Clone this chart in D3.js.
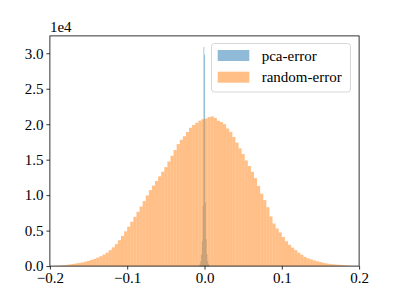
<!DOCTYPE html>
<html>
<head>
<meta charset="utf-8">
<script src="https://cdnjs.cloudflare.com/ajax/libs/d3/7.8.5/d3.min.js"></script>
<style>
  body { margin: 0; background: #fff; }
  svg { display: block; font-family: "Liberation Serif", "DejaVu Serif", serif; }
</style>
</head>
<body>
<svg id="chart"></svg>
<script>
let w = 399;
let h = 299;
let margin = {left: 49.9, right: 39.9, top: 35.9, bottom: 32.9};

// bin edges and counts
let randomStart = -0.2;
let randomBinWidth = 0.004;
let randomCounts = [
  0, 20, 50, 80, 120, 170, 240, 300, 370, 440,
  520, 620, 740, 880, 1030, 1200, 1400, 1620, 1900, 2250,
  2650, 3100, 3650, 4250, 4900, 5550, 6250, 6950, 7650, 8400,
  9150, 9950, 10700, 11350, 12000, 12650, 13300, 13950, 14750, 15550,
  16350, 17200, 17800, 18300, 18900, 19500, 19900, 20200, 20500, 20700,
  20800, 21000, 21100, 20900, 20500, 20300, 20000, 19400, 18900, 18200,
  17400, 16600, 15800, 14900, 14100, 13300, 12400, 11300, 10200, 9300,
  8300, 7000, 6000, 5300, 4750, 4100, 3500, 3000, 2600, 2250,
  1900, 1600, 1300, 1100, 950, 800, 680, 570, 460, 380,
  320, 260, 220, 180, 140, 100, 70, 40, 20, 10
];

let pcaStart = -0.0073;
let pcaBinWidth = 0.001;
let pcaCounts = [
  60, 250, 700, 1600, 3500, 8500, 30900,
  29800, 9000, 3800, 1700, 750, 260, 60
];

let xTicks = [-0.2, -0.1, 0.0, 0.1, 0.2];
let yTicks = [0, 5000, 10000, 15000, 20000, 25000, 30000];
let seriesNames = ["pca-error", "random-error"];
let seriesColors = ["#1f77b4", "#ff7f0e"];

function toBins(start, width, counts) {
  return counts.map((c, i) => ({x0: start + i * width, x1: start + (i + 1) * width, count: c}));
}

let series = [
  toBins(pcaStart, pcaBinWidth, pcaCounts),
  toBins(randomStart, randomBinWidth, randomCounts)
];

let xScale = d3.scaleLinear().domain([-0.2, 0.2]).range([margin.left, w - margin.right]);
let yMax = d3.max(series.flat(), (d) => d.count) * 1.05;
let yScale = d3.scaleLinear().domain([0, yMax]).range([h - margin.bottom, margin.top]);

let svg = d3.select("#chart")
  .attr("width", w)
  .attr("height", h);

series.forEach((bins, k) => {
  svg.append("g")
    .selectAll("rect")
    .data(bins)
    .enter()
    .append("rect")
    .attr("x", (d) => xScale(d.x0))
    .attr("y", (d) => yScale(d.count))
    .attr("width", (d) => xScale(d.x1) - xScale(d.x0))
    .attr("height", (d) => yScale(0) - yScale(d.count))
    .style("fill", seriesColors[k])
    .style("fill-opacity", 0.5);
});

let minus = (s) => s.replace("-", "\u2212");

let xAxis = d3.axisBottom(xScale).tickValues(xTicks).tickSize(3.5).tickPadding(3)
  .tickFormat((d) => minus(d3.format(".1f")(d)));
let yAxis = d3.axisLeft(yScale).tickValues(yTicks).tickSize(3.5).tickPadding(3)
  .tickFormat((d) => d3.format(".1f")(d / 10000));

let gx = svg.append("g")
  .attr("transform", "translate(0," + (h - margin.bottom) + ")")
  .call(xAxis);
let gy = svg.append("g")
  .attr("transform", "translate(" + margin.left + ",0)")
  .call(yAxis);

[gx, gy].forEach((g) => {
  g.select(".domain").remove();
  g.attr("font-family", null);
  g.selectAll("line").attr("stroke", "#000").attr("stroke-width", 0.8);
  g.selectAll("text").attr("fill", "#000").style("font-size", "15px").style("font-family", "'Liberation Serif', serif");
});

// frame
svg.append("rect")
  .attr("x", margin.left)
  .attr("y", margin.top)
  .attr("width", w - margin.left - margin.right)
  .attr("height", h - margin.top - margin.bottom)
  .attr("fill", "none")
  .attr("stroke", "#000")
  .attr("stroke-width", 0.8);

svg.append("text")
  .attr("x", margin.left)
  .attr("y", margin.top - 3.5)
  .style("font-size", "15px")
  .text("1e4");

// legend
let legend = svg.append("g").attr("transform", "translate(211.5,43.5)");
legend.append("rect")
  .attr("width", 139)
  .attr("height", 48.5)
  .attr("rx", 3)
  .attr("fill", "#fff")
  .attr("fill-opacity", 0.8)
  .attr("stroke", "#ccc")
  .attr("stroke-width", 0.8);

seriesNames.forEach((name, i) => {
  legend.append("rect")
    .attr("x", 6.2)
    .attr("y", 6.5 + i * 21.7)
    .attr("width", 31.6)
    .attr("height", 11)
    .style("fill", seriesColors[i])
    .style("fill-opacity", 0.5);
  legend.append("text")
    .attr("x", 50.2)
    .attr("y", 12 + i * 21.7)
    .attr("dy", "0.35em")
    .style("font-size", "15px")
    .text(name);
});
</script>
</body>
</html>
